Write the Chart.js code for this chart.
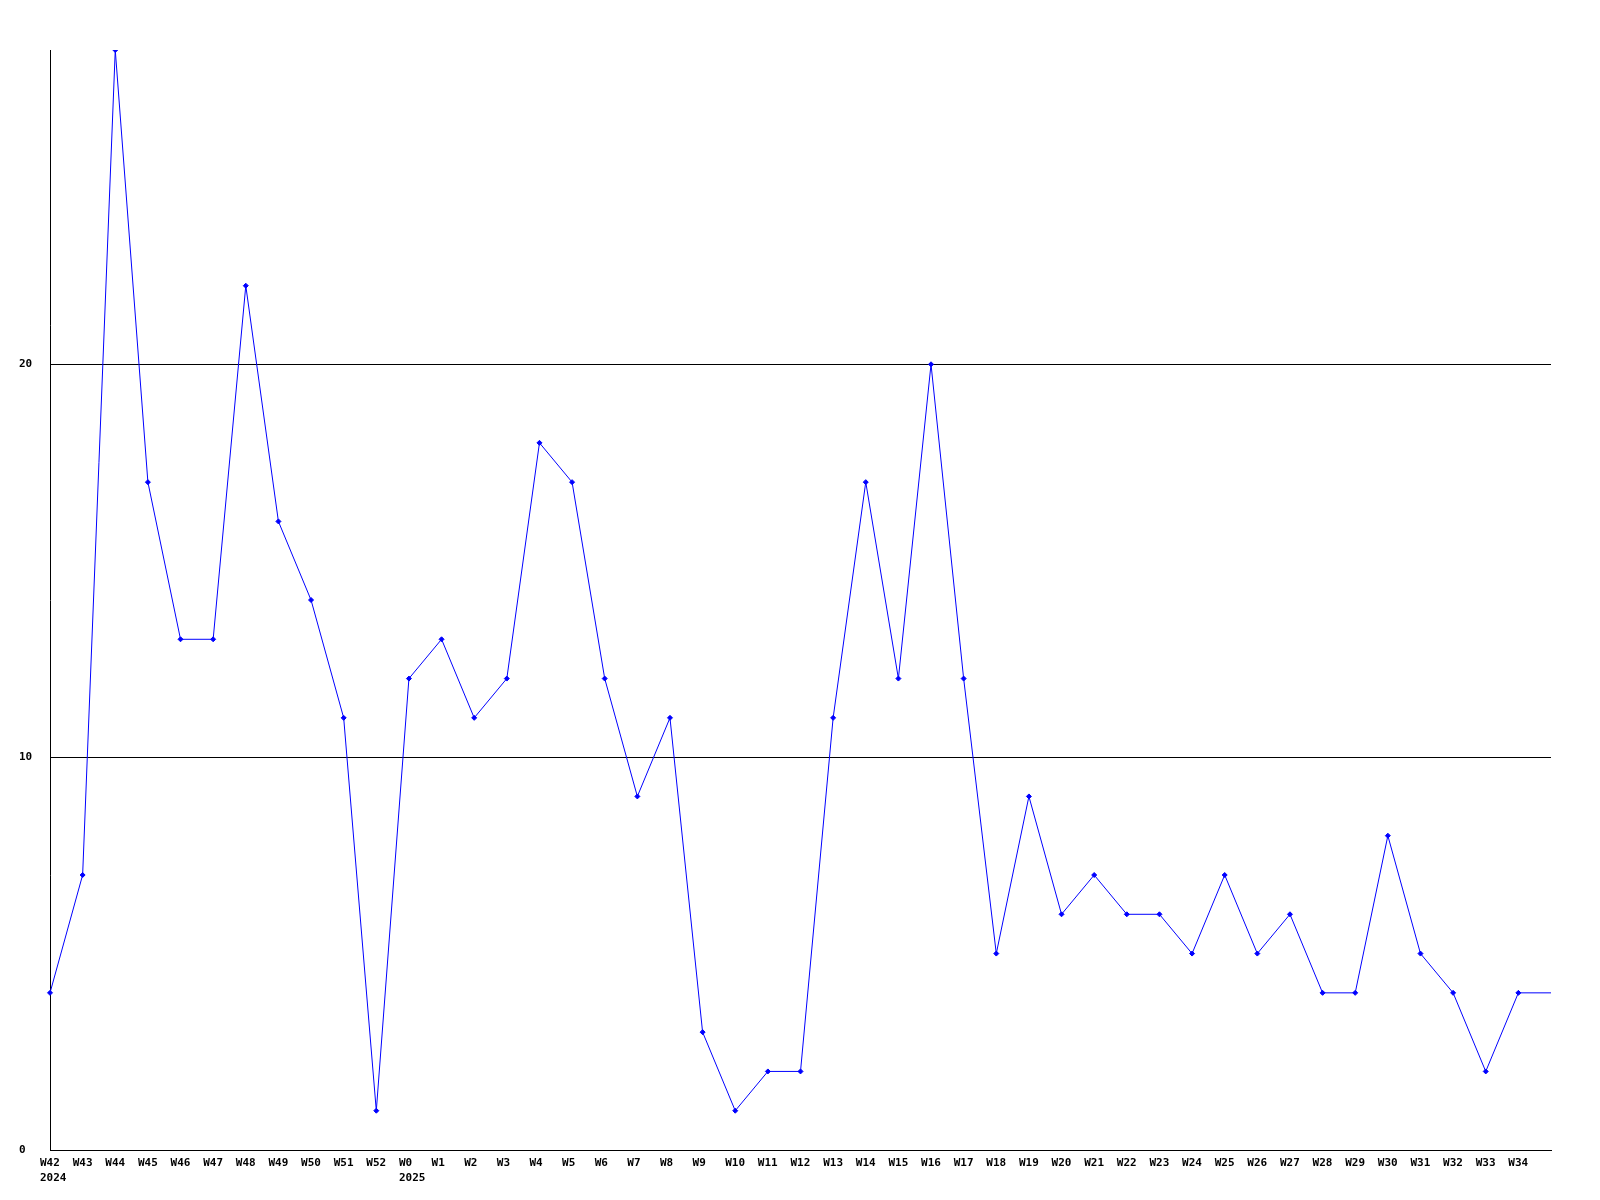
<!DOCTYPE html>
<html>
<head>
<meta charset="utf-8">
<script src="https://cdn.jsdelivr.net/npm/chart.js@4"></script>
<style>
html,body{margin:0;padding:0;background:#fff;}
canvas{display:block;}
</style>
</head>
<body>
<canvas id="c" width="1600" height="1200"></canvas>
<script>
const weekLabels = ['W42','W43','W44','W45','W46','W47','W48','W49','W50','W51','W52',
  'W0','W1','W2','W3','W4','W5','W6','W7','W8','W9','W10','W11','W12','W13','W14','W15',
  'W16','W17','W18','W19','W20','W21','W22','W23','W24','W25','W26','W27','W28','W29',
  'W30','W31','W32','W33','W34','W35'];
const yearLabels = {W42: '2024', W0: '2025'};
const counts = [4,7,28,17,13,13,22,16,14,11,1,
  12,13,11,12,18,17,12,9,11,3,1,2,2,11,17,12,
  20,12,5,9,6,7,6,6,5,7,5,6,4,4,
  8,5,4,2,4,4];
const yTicks = [0,10,20];

const labels = weekLabels.map(w => yearLabels[w] ? [w, yearLabels[w]] : w);
const lastIdx = counts.length - 1;
const font = {family: '"DejaVu Sans Mono", monospace', size: 11, weight: 'bold', lineHeight: 1.35};

new Chart(document.getElementById('c'), {
  type: 'line',
  data: {
    labels: labels,
    datasets: [{
      data: counts,
      borderColor: '#0000ff',
      backgroundColor: '#0000ff',
      borderWidth: 1,
      tension: 0,
      pointStyle: 'rectRot',
      pointRadius: ctx => ctx.dataIndex === lastIdx ? 0 : 2.5,
      pointBorderWidth: 1,
      fill: false
    }]
  },
  options: {
    responsive: false,
    animation: false,
    layout: {padding: {left: 19, top: 50, right: 49, bottom: 0}},
    plugins: {legend: {display: false}, tooltip: {enabled: false}},
    scales: {
      x: {
        type: 'category',
        offset: false,
        grid: {display: false, drawTicks: false},
        border: {display: true, color: '#000', width: 1},
        ticks: {
          color: '#000', font: font, padding: 6, maxRotation: 0, autoSkip: false,
          align: 'start', labelOffset: -10,
          callback: function(v, i) { return i === lastIdx ? '' : this.getLabelForValue(v); }
        },
        afterFit: s => { s.height = 50; }
      },
      y: {
        min: 0, max: 28,
        afterBuildTicks: s => { s.ticks = yTicks.map(v => ({value: v})); },
        grid: {display: true, color: '#000', lineWidth: 1, drawTicks: false},
        border: {display: true, color: '#000', width: 1},
        ticks: {color: '#000', font: font, crossAlign: 'far', padding: 17},
        afterFit: s => { s.width = 31; }
      }
    }
  }
});
</script>
</body>
</html>
